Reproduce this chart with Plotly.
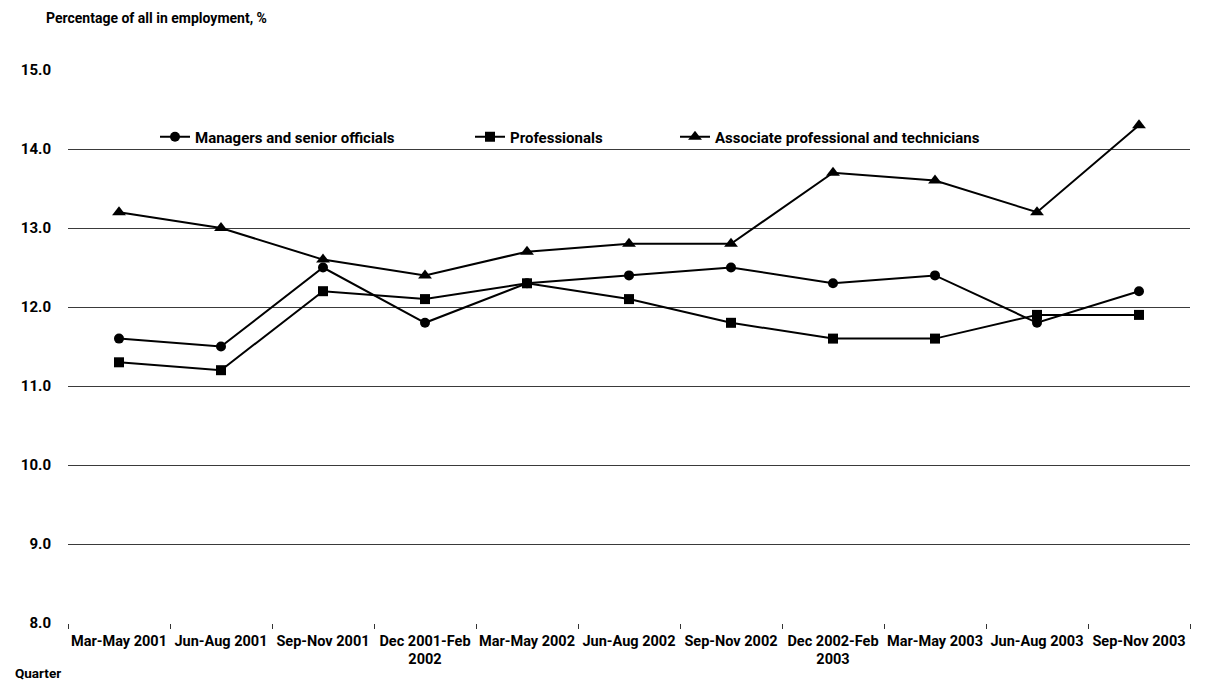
import plotly.graph_objects as go

quarters = ["Mar-May 2001", "Jun-Aug 2001", "Sep-Nov 2001", "Dec 2001-Feb<br>2002",
            "Mar-May 2002", "Jun-Aug 2002", "Sep-Nov 2002", "Dec 2002-Feb<br>2003",
            "Mar-May 2003", "Jun-Aug 2003", "Sep-Nov 2003"]
managers = [11.6, 11.5, 12.5, 11.8, 12.3, 12.4, 12.5, 12.3, 12.4, 11.8, 12.2]
professionals = [11.3, 11.2, 12.2, 12.1, 12.3, 12.1, 11.8, 11.6, 11.6, 11.9, 11.9]
associate = [13.2, 13.0, 12.6, 12.4, 12.7, 12.8, 12.8, 13.7, 13.6, 13.2, 14.3]
y_ticks = [8, 9, 10, 11, 12, 13, 14, 15]

FONT = "Roboto, Liberation Sans Narrow, sans-serif"

W, H = 1227, 682
L, R, T, B = 68, 37, 70, 59
pw = W - L - R
ph = H - T - B

def px(x):
    return (x - L) / pw

def py(y):
    return (H - B - y) / ph

fig = go.Figure()
series = [
    ("Managers and senior officials", managers, "circle", 10, "legend", 155),
    ("Professionals", professionals, "square", 10, "legend2", 470),
    ("Associate professional and technicians", associate, "triangle-up", 12, "legend3", 675),
]
for name, vals, sym, size, leg, lx in series:
    fig.add_trace(go.Scatter(
        x=quarters, y=vals, name=f"<b>{name}</b>", mode="lines+markers",
        line=dict(color="black", width=2),
        marker=dict(symbol=sym, size=size, color="black"),
        legend=leg,
    ))

legend_common = dict(orientation="h", yanchor="middle", xanchor="left",
                     font=dict(family=FONT, size=15, color="black"),
                     bgcolor="rgba(0,0,0,0)", itemwidth=30)
fig.update_layout(
    legend=dict(x=px(155), y=py(137), **legend_common),
    legend2=dict(x=px(470), y=py(137), **legend_common),
    legend3=dict(x=px(675), y=py(137), **legend_common),
)

fig.update_layout(
    width=W, height=H,
    margin=dict(l=L, r=R, t=T, b=B, autoexpand=False),
    paper_bgcolor="white", plot_bgcolor="white",
    font=dict(family=FONT, size=14, color="black"),
    showlegend=True,
    xaxis=dict(
        type="category", tickson="boundaries", ticks="outside", ticklen=5,
        tickcolor="#333", showline=False, showgrid=False,
        tickfont=dict(family=FONT, size=14.5, color="black"),
        range=[-0.5, len(quarters) - 0.5],
        tickvals=quarters, ticktext=[f"<b>{q}</b>" for q in quarters],
        tickangle=0, automargin=False,
        ticklabelstandoff=7,
    ),
    yaxis=dict(
        range=[8, 15], tickvals=y_ticks, ticktext=[f"<b>{v:.1f}</b>" for v in y_ticks],
        showgrid=True, gridcolor="#3a3a3a", gridwidth=1, zeroline=False,
        showline=False, ticks="", ticklabelstandoff=16, automargin=False,
        tickfont=dict(family=FONT, size=15, color="black"),
    ),
    annotations=[
        dict(text="<b>Percentage of all in employment, %</b>", xref="paper", yref="paper",
             x=px(44), y=py(18), xanchor="left", yanchor="middle", showarrow=False,
             font=dict(family=FONT, size=14, color="black")),
        dict(text="<b>Quarter</b>", xref="paper", yref="paper",
             x=px(13), y=py(673), xanchor="left", yanchor="middle", showarrow=False,
             font=dict(family=FONT, size=13.5, color="black")),
    ],
)

fig.write_html("out.html")
